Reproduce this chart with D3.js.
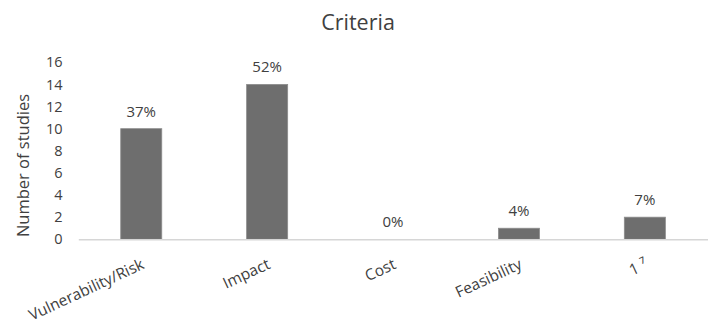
<!DOCTYPE html>
<html>
<head>
<meta charset="utf-8">
<script src="https://cdn.jsdelivr.net/npm/d3@7"></script>
<style>
  html, body { margin: 0; padding: 0; background: #fff; }
  svg { display: block; }
  text { font-family: "Open Sans", sans-serif; fill: #404040; }
</style>
</head>
<body>
<svg id="chart" width="708" height="325"></svg>
<script>
const categories = ["Vulnerability/Risk", "Impact", "Cost", "Feasibility", "1 \u2077"];
const values = [10, 14, 0, 1, 2];
const pctLabels = ["37%", "52%", "0%", "4%", "7%"];
const yTicks = [0, 2, 4, 6, 8, 10, 12, 14, 16];
const chartTitle = "Criteria";
const yTitle = "Number of studies";

const data = categories.map((c, i) => ({ cat: c, v: values[i], lab: pctLabels[i] }));

const svg = d3.select("#chart");
const x = d3.scaleBand().domain(categories).range([78.3, 707.8]).paddingInner(0.674).paddingOuter(0.337);
const y = d3.scaleLinear().domain([0, 16]).range([239.3, 62.3]);

// title
svg.append("text").attr("x", 358).attr("y", 30).attr("text-anchor", "middle")
  .style("font-size", "21.5px").style("fill", "#404040").text(chartTitle);

// y axis title
svg.append("text").attr("transform", "translate(29,165.5) rotate(-90)")
  .attr("text-anchor", "middle").style("font-size", "16.5px").text(yTitle);

// y axis (labels only)
const yAxis = svg.append("g").attr("transform", "translate(62.5,0)")
  .call(d3.axisLeft(y).tickValues(yTicks).tickSize(0).tickPadding(0));
yAxis.select(".domain").remove();
yAxis.selectAll("text").style("font-size", "14.5px").style("fill", "#404040")
  .style("font-family", "'Open Sans', sans-serif");

// bars
svg.append("g").selectAll("rect").data(data).join("rect")
  .attr("x", d => x(d.cat))
  .attr("width", x.bandwidth())
  .attr("y", d => y(d.v))
  .attr("height", d => y(0) - y(d.v))
  .attr("fill", "#6e6e6e")
  .attr("stroke", "#8c8c8c").attr("stroke-width", 0.8);

// x axis line
const xAxis = svg.append("g").attr("transform", `translate(0,${y(0)})`)
  .call(d3.axisBottom(x).tickSize(0).tickFormat(""));
xAxis.select(".domain").attr("stroke", "#d6d6d6").attr("stroke-width", 1.6);

// x labels rotated
svg.append("g").selectAll("text").data(data).join("text")
  .attr("transform", d => `translate(${x(d.cat) + x.bandwidth() / 2 + 4},268) rotate(-25)`)
  .attr("text-anchor", "end")
  .style("font-size", "15.5px")
  .text(d => d.cat);

// data labels
svg.append("g").selectAll("text").data(data).join("text")
  .attr("x", d => x(d.cat) + x.bandwidth() / 2)
  .attr("y", d => y(d.v) - 12)
  .attr("text-anchor", "middle")
  .style("font-size", "15px")
  .text(d => d.lab);
</script>
</body>
</html>
